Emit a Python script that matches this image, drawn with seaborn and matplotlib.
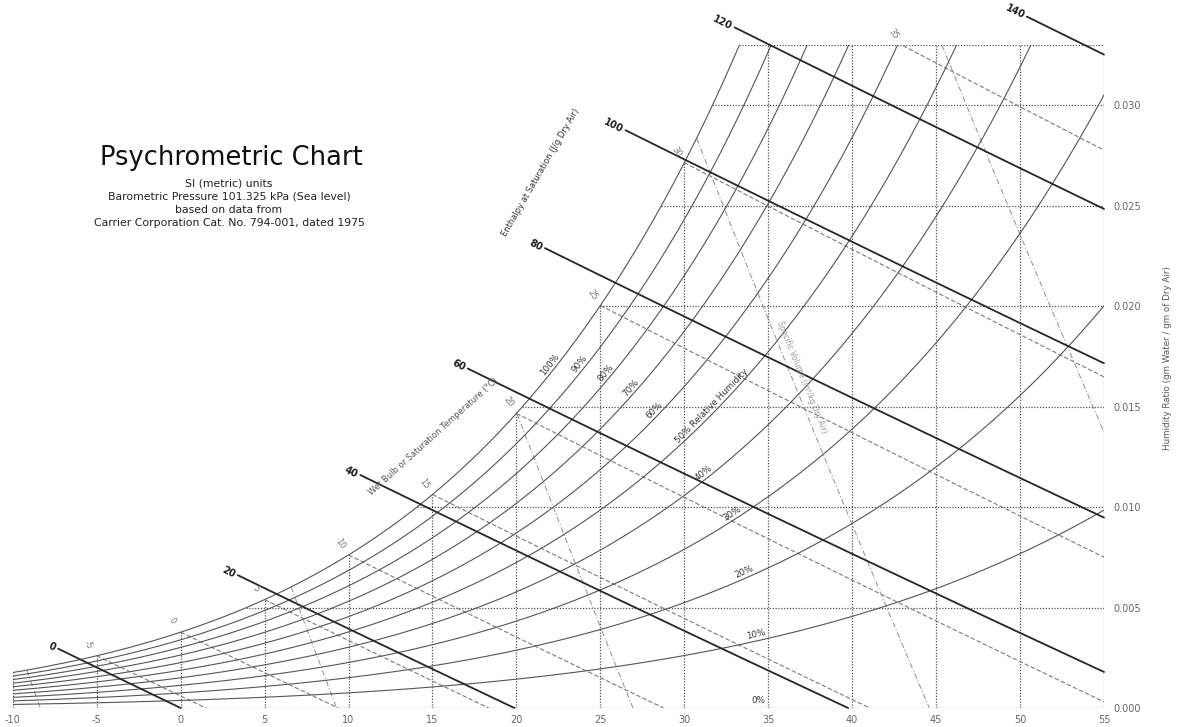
import numpy as np
import pandas as pd
import matplotlib
matplotlib.use("Agg")
import matplotlib.pyplot as plt
import seaborn as sns

# ---------------- data ----------------
temp_ticks = list(range(-10, 56, 5))
w_ticks = [0.000, 0.005, 0.010, 0.015, 0.020, 0.025, 0.030]
w_top = 0.033
pressure_kpa = 101.325

rh_levels = [0.10, 0.20, 0.30, 0.40, 0.50, 0.60, 0.70, 0.80, 0.90, 1.00]
rh_labels = ["10%", "20%", "30%", "40%", "50% Relative Humidity",
             "60%", "70%", "80%", "90%", "100%"]
rh_label_T = [34.3, 33.7, 33.0, 31.3, 31.8, 28.4, 27.0, 25.5, 24.0, 22.2]
rh_zero_label = "0%"
rh_zero_label_T = 34.4

enthalpy_levels = [0, 20, 40, 60, 80, 100, 120, 140]
enthalpy_start_T = [-7.3, 3.4, 10.7, 17.1, 21.7, 26.5, 33.0, 50.4]

wetbulb_levels = [-5, 0, 5, 10, 15, 20, 25, 30, 35]
volume_levels = [0.75, 0.80, 0.85, 0.90, 0.95]

title = "Psychrometric Chart"
subtitle = ["SI (metric) units",
            "Barometric Pressure 101.325 kPa (Sea level)",
            "based on data from",
            "Carrier Corporation Cat. No. 794-001, dated 1975"]

# ---------------- psychrometric relations ----------------
def p_sat(T):
    return 0.61094 * np.exp(17.625 * T / (T + 243.04))

def w_from_pv(pv):
    return 0.622 * pv / (pressure_kpa - pv)

def w_sat(T, rh=1.0):
    return w_from_pv(rh * p_sat(T))

def t_for(W, rh=1.0):
    pv = W * pressure_kpa / (0.622 + W) / rh
    a = np.log(pv / 0.61094)
    return 243.04 * a / (17.625 - a)

def w_enthalpy(T, h):
    return (h - 1.006 * T) / (2501.0 + 1.86 * T)

def w_wetbulb(T, twb):
    ws = w_sat(twb)
    return ((2501.0 - 2.326 * twb) * ws - 1.006 * (T - twb)) / (2501.0 + 1.86 * T - 4.186 * twb)

def w_volume(T, v):
    return (v * pressure_kpa / (0.287 * (T + 273.15)) - 1.0) / 1.608

# ---------------- figure ----------------
sns.set_theme(style="white")
plt.rcParams["font.family"] = ["DejaVu Sans"]

fig = plt.figure(figsize=(11.78, 7.27), dpi=100)
ax = fig.add_axes([12.8 / 1178, 19 / 727, (1104 - 12.8) / 1178, 663 / 727])
ax.set_xlim(-10, 55)
ax.set_ylim(0, w_top)
for s in ax.spines.values():
    s.set_visible(False)
ax.set_facecolor("white")

grid_kw = dict(color="#505050", lw=0.9, ls=(0, (1, 1.3)), zorder=1)
# vertical grid (dry bulb), clipped at saturation
for t in temp_ticks:
    ax.plot([t, t], [0, min(w_sat(t), w_top)], **grid_kw)
# horizontal grid (humidity ratio), starting at saturation
for w in w_ticks[1:] + [w_top]:
    ax.plot([t_for(w), 55], [w, w], **grid_kw)
ax.plot([-10, 55], [0, 0], **grid_kw)

# relative humidity curves
rows = []
for rh in rh_levels:
    t_end = min(55.0, float(t_for(w_top, rh)))
    T = np.linspace(-10, t_end, 300)
    for a, b in zip(T, w_sat(T, rh)):
        rows.append((rh, a, b))
rh_df = pd.DataFrame(rows, columns=["level", "T", "W"])
sns.lineplot(data=rh_df, x="T", y="W", units="level", estimator=None, sort=False,
             color="#555555", lw=0.8, ax=ax, zorder=3)

# enthalpy lines
rows = []
for h, ts in zip(enthalpy_levels, enthalpy_start_T):
    te = min(55.0, h / 1.006)
    T = np.linspace(ts, te, 60)
    for a in T:
        rows.append((h, a, w_enthalpy(a, h)))
h_df = pd.DataFrame(rows, columns=["level", "T", "W"])
sns.lineplot(data=h_df, x="T", y="W", units="level", estimator=None, sort=False,
             color="#262626", lw=1.3, ax=ax, clip_on=False, zorder=4)

# wet bulb lines
rows = []
for twb in wetbulb_levels:
    ws = w_sat(twb)
    te = min(55.0, twb + (2501.0 - 2.326 * twb) * ws / 1.006)
    T = np.linspace(twb, te, 60)
    for a in T:
        rows.append((twb, a, w_wetbulb(a, twb)))
wb_df = pd.DataFrame(rows, columns=["level", "T", "W"])
sns.lineplot(data=wb_df, x="T", y="W", units="level", estimator=None, sort=False,
             color="#7a7a7a", lw=0.8, ls=(0, (4, 2)), ax=ax, zorder=2)

# specific volume lines
Tf = np.linspace(-10, 55, 6501)
rows = []
for v in volume_levels:
    wv = w_volume(Tf, v)
    ok = (wv <= w_sat(Tf)) & (wv <= w_top) & (wv >= 0)
    T = Tf[ok]
    for a in T[::20]:
        rows.append((v, a, w_volume(a, v)))
    rows.append((v, T[-1], w_volume(T[-1], v)))
v_df = pd.DataFrame(rows, columns=["level", "T", "W"])
sns.lineplot(data=v_df, x="T", y="W", units="level", estimator=None, sort=False,
             color="#9a9a9a", lw=0.8, ls=(0, (5, 2, 1, 2)), ax=ax, zorder=2)


def angle(T, f, dT=0.05):
    p1 = ax.transData.transform((T, f(T)))
    p2 = ax.transData.transform((T + dT, f(T + dT)))
    return np.degrees(np.arctan2(p2[1] - p1[1], p2[0] - p1[0]))

# RH labels
for rh, lab, tl in zip(rh_levels, rh_labels, rh_label_T):
    f = lambda t, rh=rh: w_sat(t, rh)
    ax.annotate(lab, (tl, f(tl)), xytext=(0, 1.5), textcoords="offset points",
                rotation=angle(tl, f), rotation_mode="anchor",
                ha="center", va="bottom", fontsize=6.3, color="#333333", zorder=6)
ax.annotate(rh_zero_label, (rh_zero_label_T, 0.0), xytext=(0, 2), textcoords="offset points",
            ha="center", va="bottom", fontsize=6.3, color="#333333", zorder=6)

# enthalpy labels
for h, ts in zip(enthalpy_levels, enthalpy_start_T):
    f = lambda t, h=h: w_enthalpy(t, h)
    ax.annotate(str(h), (ts, f(ts)), xytext=(-2, 0), textcoords="offset points",
                rotation=angle(ts, f), rotation_mode="anchor",
                ha="right", va="center", fontsize=7, color="#1f1f1f",
                fontweight="bold", annotation_clip=False, zorder=6)

# wet bulb labels
for twb in wetbulb_levels:
    ws = w_sat(twb)
    if ws <= w_top:
        x0, y0 = twb, ws
    else:
        Tg = np.linspace(twb, 55, 2000)
        x0 = Tg[np.argmax(w_wetbulb(Tg, twb) <= w_top)]
        y0 = w_top
    ax.annotate(str(twb), (x0, y0), xytext=(-6, 8), textcoords="offset points",
                rotation=-55, ha="center", va="center", fontsize=6,
                color="#777777", annotation_clip=False, zorder=6)

# specific volume text
fv = lambda t: w_volume(t, 0.90)
tv = 36.4
ax.annotate("Specific Volume (m\u00b3/kg Dry Air)", (tv, fv(tv)), xytext=(7, 0),
            textcoords="offset points", rotation=angle(tv, fv), rotation_mode="anchor",
            ha="center", va="center", fontsize=5.5, color="#999999", zorder=6)

# axis ticks
ax.set_xticks(temp_ticks)
ax.set_xticklabels([str(t) for t in temp_ticks])
ax.yaxis.tick_right()
ax.set_yticks(w_ticks)
ax.set_yticklabels([f"{w:.3f}" for w in w_ticks])
ax.tick_params(axis="both", length=0, labelsize=7, labelcolor="#666666")
ax.tick_params(axis="x", pad=5)
ax.tick_params(axis="y", pad=7)
ax.set_xlabel("")
ax.set_ylabel("")

fig.text(1167 / 1178, 1 - 358 / 727, "Humidity Ratio (gm Water / gm of Dry Air)",
         rotation=90, ha="center", va="center", fontsize=6.3, color="#555555")

# axis-name texts along the chart
def px2data(px, py):
    return (-10 + (px - 12.8) / 16.79, (708 - py) / 20100.0)

ax.text(*px2data(541, 172), "Enthalpy at Saturation (J/g Dry Air)", rotation=60,
        ha="center", va="center", fontsize=6, color="#333333", zorder=6)
ax.text(*px2data(433, 436), "Wet Bulb or Saturation Temperature (\u00b0C)", rotation=42,
        ha="center", va="center", fontsize=6, color="#555555", zorder=6)

# titles
fig.text(231 / 1178, 1 - 158 / 727, title, ha="center", va="center",
         fontsize=18.5, color="#111111")
for i, line in enumerate(subtitle):
    fig.text(229 / 1178, 1 - (183 + 13.3 * i) / 727, line, ha="center", va="center",
             fontsize=7.8, color="#222222")

fig.savefig("out.png", dpi=100, facecolor="white")
